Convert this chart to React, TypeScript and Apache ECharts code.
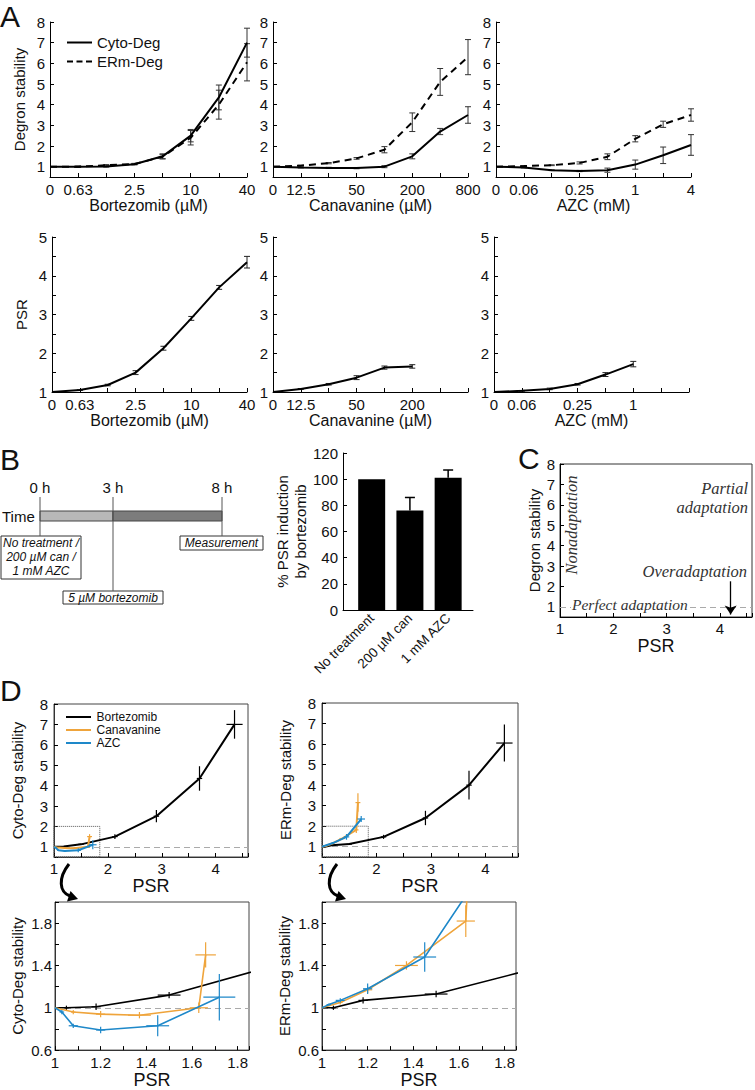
import React, { useEffect, useRef } from 'react';
import * as echarts from 'echarts';

// ---------------- data ----------------
const bortDoses = ['0', '0.63', '1.25', '2.5', '5', '10', '20', '40'];
const canDoses = ['0', '12.5', '25', '50', '100', '200', '400', '800'];
const azcDoses = ['0', '0.06', '0.125', '0.25', '0.5', '1', '2', '4'];
const labelledDoseIdx = [0, 1, 3, 5, 7];

const bortCyto = [1.0, 1.0, 1.01, 1.12, 1.5, 2.5, 4.35, 7.0];
const bortCytoErr = [0, 0.02, 0.03, 0.03, 0.12, 0.3, 0.6, 0.7];
const bortERm = [1.0, 1.0, 1.07, 1.13, 1.48, 2.4, 4.0, 6.05];
const bortERmErr = [0, 0.02, 0.03, 0.03, 0.1, 0.35, 0.7, 0.9];
const bortPsr = [1.0, 1.05, 1.18, 1.5, 2.13, 2.9, 3.7, 4.35];
const bortPsrErr = [0, 0.01, 0.02, 0.05, 0.05, 0.05, 0.05, 0.15];

const canCyto = [1.0, 0.96, 0.94, 0.93, 1.0, 1.5, 2.7, 3.5];
const canCytoErr = [0, 0.02, 0.03, 0.03, 0.05, 0.12, 0.15, 0.4];
const canERm = [1.0, 1.05, 1.17, 1.4, 1.82, 3.15, 5.1, 6.3];
const canERmErr = [0, 0.02, 0.03, 0.04, 0.15, 0.45, 0.65, 0.85];
const canPsr = [1.0, 1.08, 1.2, 1.37, 1.63, 1.66];
const canPsrErr = [0, 0.01, 0.02, 0.05, 0.04, 0.045];

const azcCyto = [1.0, 0.96, 0.83, 0.79, 0.83, 1.1, 1.55, 2.05];
const azcCytoErr = [0, 0.02, 0.02, 0.03, 0.1, 0.22, 0.4, 0.5];
const azcERm = [1.0, 1.03, 1.07, 1.18, 1.48, 2.35, 3.05, 3.5];
const azcERmErr = [0, 0.01, 0.02, 0.05, 0.14, 0.15, 0.15, 0.3];
const azcPsr = [1.0, 1.03, 1.08, 1.2, 1.45, 1.72];
const azcPsrErr = [0, 0.01, 0.02, 0.02, 0.05, 0.07];

const degronNames = ['Cyto-Deg', 'ERm-Deg'];
const drugNames = ['Bortezomib', 'Canavanine', 'AZC'];

const bCats = ['No treatment', '200 µM can', '1 mM AZC'];
const bVals = [100, 76, 101];
const bErr = [0, 10, 6];

const timeTicks = ['0 h', '3 h', '8 h'];

// ---------------- style helpers ----------------
const FONT = '"Liberation Sans", Arial, sans-serif';
const SERIF = '"Liberation Serif", "Times New Roman", serif';
const INK = '#111';
const ORANGE = '#efa43b';
const BLUE = '#1e88c9';
const DRUG_COLORS = ['#000', ORANGE, BLUE];
const SOLID_ICON = 'path://M0,0h25v2h-25z';
const DASH_ICON = 'path://M0,0h6v2h-6z M9.5,0h6v2h-6z M19,0h6v2h-6z';

const near = (v: number, step: number) => Math.abs(v / step - Math.round(v / step)) < 1e-6;
const fmt = (v: number) => String(Number(v.toFixed(2)));
const tick = { show: true, inside: true, length: 4, lineStyle: { color: '#000', width: 1 } };
const axLine = (c = '#000') => ({ show: true, lineStyle: { color: c, width: 1 } });
const lbl = (size: number, extra: any = {}) => ({ fontFamily: FONT, fontSize: size, color: INK, ...extra });

const vErr = (color: string, cap: number, lw: number, upOnly = false) => (_p: any, api: any) => {
  const x = api.value(0);
  const y = api.value(1);
  const e = api.value(2);
  if (!e) return null;
  const top = api.coord([x, y + e]);
  const bot = api.coord(upOnly ? [x, y] : [x, y - e]);
  const st = { stroke: color, lineWidth: lw };
  const ch: any[] = [
    { type: 'line', shape: { x1: top[0], y1: top[1], x2: bot[0], y2: bot[1] }, style: st },
    { type: 'line', shape: { x1: top[0] - cap, y1: top[1], x2: top[0] + cap, y2: top[1] }, style: st },
  ];
  if (!upOnly) ch.push({ type: 'line', shape: { x1: bot[0] - cap, y1: bot[1], x2: bot[0] + cap, y2: bot[1] }, style: st });
  return { type: 'group', children: ch };
};

const crossErr = (color: string, xr: number[], yr: number[], lw: number) => (_p: any, api: any) => {
  const x = api.value(0);
  const y = api.value(1);
  const ex = api.value(2);
  const ey = api.value(3);
  if (!ex && !ey) return null;
  const st = { stroke: color, lineWidth: lw };
  const ch: any[] = [];
  if (ex > 0 && y >= yr[0] && y <= yr[1] && x - ex < xr[1] && x + ex > xr[0]) {
    const a = api.coord([Math.max(x - ex, xr[0]), y]);
    const b = api.coord([Math.min(x + ex, xr[1]), y]);
    ch.push({ type: 'line', shape: { x1: a[0], y1: a[1], x2: b[0], y2: b[1] }, style: st });
  }
  if (ey > 0 && x >= xr[0] && x <= xr[1] && y - ey < yr[1] && y + ey > yr[0]) {
    const a = api.coord([x, Math.max(y - ey, yr[0])]);
    const b = api.coord([x, Math.min(y + ey, yr[1])]);
    ch.push({ type: 'line', shape: { x1: a[0], y1: a[1], x2: b[0], y2: b[1] }, style: st });
  }
  return { type: 'group', children: ch };
};

const catX = (grid: number, doses: string[], show: (k: number) => boolean, name: string) => ({
  type: 'category', gridIndex: grid, data: doses, boundaryGap: false,
  axisLine: axLine(), axisTick: { ...tick, interval: 0 },
  axisLabel: lbl(15, { interval: (k: number) => show(k), margin: 5 }),
  splitLine: { show: false },
  name, nameLocation: 'middle', nameGap: 20, nameTextStyle: lbl(16),
});

const txt = (text: string, x: number, y: number, o: any = {}) => ({
  type: 'text', x, y, z: 100, rotation: o.rotation || 0,
  style: {
    text, fill: o.fill || INK, fontSize: o.fontSize || 15, fontFamily: o.fontFamily || FONT,
    fontStyle: o.fontStyle || 'normal',
    align: o.align || 'left', textAlign: o.align || 'left',
    verticalAlign: o.va || 'middle', textVerticalAlign: o.va || 'middle',
    backgroundColor: o.bg, padding: o.pad, lineHeight: o.lineHeight,
  },
});

function buildOption() {
  const grid: any[] = [];
  const xAxis: any[] = [];
  const yAxis: any[] = [];
  const series: any[] = [];

  // ---------- Panel A ----------
  const aSets = [
    { doses: bortDoses, cyto: bortCyto, cytoErr: bortCytoErr, erm: bortERm, ermErr: bortERmErr, psr: bortPsr, psrErr: bortPsrErr, title: 'Bortezomib (µM)' },
    { doses: canDoses, cyto: canCyto, cytoErr: canCytoErr, erm: canERm, ermErr: canERmErr, psr: canPsr, psrErr: canPsrErr, title: 'Canavanine (µM)' },
    { doses: azcDoses, cyto: azcCyto, cytoErr: azcCytoErr, erm: azcERm, ermErr: azcERmErr, psr: azcPsr, psrErr: azcPsrErr, title: 'AZC (mM)' },
  ];
  const aTopLeft = [50, 273, 496];
  const aBotLeft = [52, 273, 494];
  const aWidth = [197, 195, 195];

  aSets.forEach((s, i) => {
    grid[i] = { left: aTopLeft[i], top: 22, width: aWidth[i], height: 155 };
    xAxis[i] = catX(i, s.doses, (k) => labelledDoseIdx.includes(k), s.title);
    yAxis[i] = {
      type: 'value', gridIndex: i, min: 0.5, max: 8, splitNumber: 8,
      axisLine: axLine(), axisTick: tick, splitLine: { show: false },
      axisLabel: lbl(15, { margin: 5, formatter: (v: number) => (near(v, 1) ? fmt(v) : '') }),
      name: i === 0 ? 'Degron stability' : '', nameLocation: 'middle', nameRotate: 90, nameGap: 23,
      nameTextStyle: lbl(15),
    };
    series.push({ type: 'line', name: degronNames[0], xAxisIndex: i, yAxisIndex: i, data: s.cyto, symbol: 'none',
      lineStyle: { color: '#000', width: 2 }, itemStyle: { color: '#000' } });
    series.push({ type: 'line', name: degronNames[1], xAxisIndex: i, yAxisIndex: i, data: s.erm, symbol: 'none',
      lineStyle: { color: '#000', width: 2, type: [7, 5] }, itemStyle: { color: '#000' } });
    series.push({ type: 'custom', xAxisIndex: i, yAxisIndex: i, renderItem: vErr('#333', 3, 1),
      data: s.cyto.map((v, k) => [k, v, s.cytoErr[k]]), encode: { x: 0, y: 1 }, z: 3 });
    series.push({ type: 'custom', xAxisIndex: i, yAxisIndex: i, renderItem: vErr('#333', 3, 1),
      data: s.erm.map((v, k) => [k, v, s.ermErr[k]]), encode: { x: 0, y: 1 }, z: 3 });

    const b = 3 + i;
    grid[b] = { left: aBotLeft[i], top: 237, width: aWidth[i] - (i === 0 ? 2 : 0), height: 155 };
    xAxis[b] = catX(b, s.doses, (k) => k < s.psr.length && labelledDoseIdx.includes(k), s.title);
    yAxis[b] = {
      type: 'value', gridIndex: b, min: 1, max: 5, interval: 0.5,
      axisLine: axLine(), axisTick: tick, splitLine: { show: false },
      axisLabel: lbl(15, { margin: 5, formatter: (v: number) => (near(v, 1) ? fmt(v) : '') }),
      name: i === 0 ? 'PSR' : '', nameLocation: 'middle', nameRotate: 90, nameGap: 23, nameTextStyle: lbl(15),
    };
    series.push({ type: 'line', name: 'PSR', xAxisIndex: b, yAxisIndex: b, data: s.psr, symbol: 'none',
      lineStyle: { color: '#000', width: 2 }, itemStyle: { color: '#000' } });
    series.push({ type: 'custom', xAxisIndex: b, yAxisIndex: b, renderItem: vErr('#222', 3, 1),
      data: s.psr.map((v, k) => [k, v, s.psrErr[k]]), encode: { x: 0, y: 1 }, z: 3 });
  });

  // ---------- Panel B bar chart ----------
  grid[6] = { left: 343, top: 453, width: 130, height: 157 };
  xAxis[6] = {
    type: 'value', gridIndex: 6, min: 0.25, max: 3.65, splitNumber: 3,
    axisLine: axLine(), axisTick: { show: false }, splitLine: { show: false },
    axisLabel: lbl(13.5, { rotate: 45, margin: 6,
      formatter: (v: number) => (near(v, 1) && v >= 1 && v <= 3 ? bCats[Math.round(v) - 1] : '') }),
  };
  yAxis[6] = {
    type: 'value', gridIndex: 6, min: 0, max: 120, interval: 20,
    axisLine: axLine(), axisTick: tick, splitLine: { show: false },
    axisLabel: lbl(15, { margin: 5 }),
    name: '% PSR induction\nby bortezomib', nameLocation: 'middle', nameRotate: 90, nameGap: 31,
    nameTextStyle: lbl(15, { lineHeight: 18 }),
  };
  series.push({ type: 'bar', xAxisIndex: 6, yAxisIndex: 6, barWidth: 27,
    data: bVals.map((v, k) => [k + 1, v]), itemStyle: { color: '#000' } });
  series.push({ type: 'custom', xAxisIndex: 6, yAxisIndex: 6, renderItem: vErr('#000', 5, 1.5, true),
    data: bVals.map((v, k) => [k + 1, v, bErr[k]]), encode: { x: 0, y: 1 }, z: 3 });

  // ---------- Panel C ----------
  grid[7] = { left: 560, top: 464, width: 194, height: 153, show: true, borderColor: '#333', borderWidth: 1 };
  xAxis[7] = {
    type: 'value', gridIndex: 7, min: 1, max: 4.6, interval: 0.5,
    axisLine: axLine(), axisTick: tick, splitLine: { show: false },
    axisLabel: lbl(15, { margin: 4, formatter: (v: number) => (near(v, 1) ? fmt(v) : '') }),
    name: 'PSR', nameLocation: 'middle', nameGap: 16, nameTextStyle: lbl(18),
  };
  yAxis[7] = {
    type: 'value', gridIndex: 7, min: 0.5, max: 8, splitNumber: 8,
    axisLine: axLine(), axisTick: tick, splitLine: { show: false },
    axisLabel: lbl(15, { margin: 5, formatter: (v: number) => (near(v, 1) ? fmt(v) : '') }),
    name: 'Degron stability', nameLocation: 'middle', nameRotate: 90, nameGap: 18, nameTextStyle: lbl(15),
  };
  series.push({ type: 'line', xAxisIndex: 7, yAxisIndex: 7, data: [], symbol: 'none',
    markLine: { silent: true, symbol: 'none', label: { show: false },
      lineStyle: { color: '#aaa', type: [6, 4], width: 1.2 }, data: [{ yAxis: 1 }] } });
  series.push({ type: 'line', xAxisIndex: 7, yAxisIndex: 7, data: [], symbol: 'none',
    markLine: { silent: true, symbol: ['none', 'arrow'], symbolSize: 9, label: { show: false },
      lineStyle: { color: '#000', type: 'solid', width: 1.3 },
      data: [[{ coord: [4.2, 2.25] }, { coord: [4.2, 0.62] }]] } });

  // ---------- Panel D ----------
  const dSets = [
    { g: 8, left: 54, top: 704, w: 194, h: 153, xr: [1, 4.6], yr: [0.5, 8], stabs: [bortCyto, canCyto, azcCyto], errs: [bortCytoErr, canCytoErr, azcCytoErr], yname: 'Cyto-Deg stability', zoom: false },
    { g: 9, left: 322, top: 703, w: 196, h: 154, xr: [1, 4.6], yr: [0.5, 8], stabs: [bortERm, canERm, azcERm], errs: [bortERmErr, canERmErr, azcERmErr], yname: 'ERm-Deg stability', zoom: false },
    { g: 10, left: 55, top: 902, w: 194, h: 153, xr: [1, 1.85], yr: [0.6, 2], stabs: [bortCyto, canCyto, azcCyto], errs: [bortCytoErr, canCytoErr, azcCytoErr], yname: 'Cyto-Deg stability', zoom: true },
    { g: 11, left: 322, top: 902, w: 194, h: 153, xr: [1, 1.85], yr: [0.6, 2], stabs: [bortERm, canERm, azcERm], errs: [bortERmErr, canERmErr, azcERmErr], yname: 'ERm-Deg stability', zoom: true },
  ];
  const psrs = [bortPsr, canPsr, azcPsr];
  const psrErrs = [bortPsrErr, canPsrErr, azcPsrErr];

  dSets.forEach((d) => {
    const g = d.g;
    grid[g] = { left: d.left, top: d.top, width: d.w, height: d.h, show: true, borderColor: '#444', borderWidth: 1 };
    if (!d.zoom) {
      xAxis[g] = {
        type: 'value', gridIndex: g, min: d.xr[0], max: d.xr[1], interval: 0.5,
        axisLine: axLine('#333'), axisTick: tick, splitLine: { show: false },
        axisLabel: lbl(15, { margin: 4, formatter: (v: number) => (near(v, 1) ? fmt(v) : '') }),
        name: 'PSR', nameLocation: 'middle', nameGap: 19, nameTextStyle: lbl(18),
      };
      yAxis[g] = {
        type: 'value', gridIndex: g, min: d.yr[0], max: d.yr[1], splitNumber: 8,
        axisLine: axLine('#333'), axisTick: tick, splitLine: { show: false },
        axisLabel: lbl(15, { margin: 6, formatter: (v: number) => (near(v, 1) ? fmt(v) : '') }),
        name: d.yname, nameLocation: 'middle', nameRotate: 90, nameGap: 29, nameTextStyle: lbl(15),
      };
    } else {
      xAxis[g] = {
        type: 'value', gridIndex: g, min: d.xr[0], max: d.xr[1], interval: 0.1,
        axisLine: axLine('#333'), axisTick: tick, splitLine: { show: false },
        axisLabel: lbl(15, { margin: 5, formatter: (v: number) => (near(v, 0.1) && Math.round(v * 10) % 2 === 0 ? fmt(v) : '') }),
        name: 'PSR', nameLocation: 'middle', nameGap: 19, nameTextStyle: lbl(18),
      };
      yAxis[g] = {
        type: 'value', gridIndex: g, min: d.yr[0], max: d.yr[1], interval: 0.2,
        axisLine: axLine('#333'), axisTick: tick, splitLine: { show: false },
        axisLabel: lbl(15, { margin: 3, formatter: (v: number) => (near(v - 0.6, 0.4) ? fmt(v) : '') }),
        name: d.yname, nameLocation: 'middle', nameRotate: 90, nameGap: 30, nameTextStyle: lbl(15),
      };
    }
    const lw = d.zoom ? 1.6 : 2;
    drugNames.forEach((nm, k) => {
      const pts = psrs[k].map((p, j) => [p, d.stabs[k][j]]);
      const s: any = {
        type: 'line', name: nm, xAxisIndex: g, yAxisIndex: g, data: pts, symbol: 'none', clip: true,
        lineStyle: { color: DRUG_COLORS[k], width: lw }, itemStyle: { color: DRUG_COLORS[k] }, z: 4 + k,
      };
      if (k === 0) {
        s.markLine = { silent: true, symbol: 'none', label: { show: false }, z: 1,
          lineStyle: { color: '#aaa', type: [6, 4], width: 1.2 }, data: [{ yAxis: 1 }] };
        if (!d.zoom) {
          s.markArea = { silent: true, itemStyle: { color: 'rgba(0,0,0,0)', borderColor: '#555', borderWidth: 1, borderType: 'dotted' },
            data: [[{ coord: [dSets[2].xr[0], d.yr[0]] }, { coord: [dSets[2].xr[1], dSets[2].yr[1]] }]] };
        }
      }
      series.push(s);
      series.push({
        type: 'custom', xAxisIndex: g, yAxisIndex: g, clip: true, z: 4 + k,
        renderItem: crossErr(DRUG_COLORS[k], d.xr, d.yr, 1.2),
        data: psrs[k].map((p, j) => [p, d.stabs[k][j], psrErrs[k][j], d.errs[k][j]]),
        encode: { x: 0, y: 1 },
      });
    });
  });

  // ---------- graphics ----------
  const graphic: any[] = [];
  graphic.push(txt('A', 0, 1, { fontSize: 30, va: 'top' }));
  graphic.push(txt('B', 0, 444, { fontSize: 30, va: 'top' }));
  graphic.push(txt('C', 518, 443, { fontSize: 30, va: 'top' }));
  graphic.push(txt('D', 0, 675, { fontSize: 30, va: 'top' }));

  // timeline
  const tx = [40, 113, 222];
  const lineEnd = [536, 591, 536];
  graphic.push({ type: 'rect', z: 100, shape: { x: 40, y: 511, width: 73, height: 10 }, style: { fill: '#b8b8b8', stroke: '#444', lineWidth: 1 } });
  graphic.push({ type: 'rect', z: 100, shape: { x: 113, y: 511, width: 109, height: 10 }, style: { fill: '#7c7c7c', stroke: '#444', lineWidth: 1 } });
  timeTicks.forEach((t, k) => {
    graphic.push(txt(t, tx[k], 487, { align: 'center', fontSize: 15 }));
    graphic.push({ type: 'line', z: 101, shape: { x1: tx[k], y1: 497, x2: tx[k], y2: lineEnd[k] }, style: { stroke: '#555', lineWidth: 1 } });
  });
  graphic.push(txt('Time', 2, 516, { fontSize: 15 }));
  graphic.push({ type: 'rect', z: 100, shape: { x: 1, y: 536, width: 80, height: 43 }, style: { fill: '#fff', stroke: '#333', lineWidth: 1 } });
  graphic.push(txt('No treatment /', 41, 543, { align: 'center', fontSize: 12, fontStyle: 'italic' }));
  graphic.push(txt('200 µM can /', 41, 557, { align: 'center', fontSize: 12, fontStyle: 'italic' }));
  graphic.push(txt('1 mM AZC', 41, 571, { align: 'center', fontSize: 12, fontStyle: 'italic' }));
  graphic.push({ type: 'rect', z: 100, shape: { x: 63, y: 591, width: 100, height: 13 }, style: { fill: '#fff', stroke: '#333', lineWidth: 1 } });
  graphic.push(txt('5 µM bortezomib', 113, 597.5, { align: 'center', fontSize: 12, fontStyle: 'italic' }));
  graphic.push({ type: 'rect', z: 100, shape: { x: 180, y: 536, width: 83, height: 14 }, style: { fill: '#fff', stroke: '#333', lineWidth: 1 } });
  graphic.push(txt('Measurement', 221.5, 543, { align: 'center', fontSize: 12, fontStyle: 'italic' }));

  // panel C annotations
  graphic.push(txt('Nonadaptation', 571, 525, { fontSize: 16.5, fontFamily: SERIF, fontStyle: 'italic', align: 'center', rotation: Math.PI / 2, fill: '#333' }));
  graphic.push(txt('Partial', 748, 488, { fontSize: 16.5, fontFamily: SERIF, fontStyle: 'italic', align: 'right', fill: '#333' }));
  graphic.push(txt('adaptation', 748, 507, { fontSize: 16.5, fontFamily: SERIF, fontStyle: 'italic', align: 'right', fill: '#333' }));
  graphic.push(txt('Overadaptation', 747, 571, { fontSize: 16.5, fontFamily: SERIF, fontStyle: 'italic', align: 'right', fill: '#333' }));
  graphic.push(txt('Perfect adaptation', 571, 604, { fontSize: 15.5, fontFamily: SERIF, fontStyle: 'italic', fill: '#333', bg: '#fff', pad: [0, 2, 0, 1] }));

  // curved arrows (D)
  [0, 268].forEach((off) => {
    graphic.push({ type: 'bezierCurve', z: 100,
      shape: { x1: 69 + off, y1: 864, cpx1: 58 + off, cpy1: 878, cpx2: 59 + off, cpy2: 892, x2: 70 + off, y2: 896 },
      style: { stroke: '#000', lineWidth: 3, fill: 'none' } });
    graphic.push({ type: 'polygon', z: 100,
      shape: { points: [[78 + off, 899], [67 + off, 901.5], [70.5 + off, 891]] },
      style: { fill: '#000' } });
  });

  return {
    animation: false,
    backgroundColor: '#fff',
    textStyle: { fontFamily: FONT },
    legend: [
      { left: 62, top: 30, orient: 'vertical', itemWidth: 25, itemHeight: 2, itemGap: 4, selectedMode: false,
        data: [{ name: degronNames[0], icon: SOLID_ICON }, { name: degronNames[1], icon: DASH_ICON }],
        textStyle: lbl(15, { lineHeight: 13 }) },
      { left: 61, top: 706, orient: 'vertical', itemWidth: 26, itemHeight: 2, itemGap: 1, selectedMode: false,
        data: drugNames.map((n) => ({ name: n, icon: SOLID_ICON })), textStyle: lbl(12, { lineHeight: 11.5 }) },
    ],
    grid, xAxis, yAxis, series, graphic,
  };
}

export default function App() {
  const ref = useRef<HTMLDivElement>(null);
  useEffect(() => {
    if (!ref.current) return;
    const chart = echarts.init(ref.current, null, { renderer: 'svg' });
    chart.setOption(buildOption() as any);
    return () => chart.dispose();
  }, []);
  return (
    <div
      ref={ref}
      style={{ position: 'absolute', left: 0, top: 0, width: 755, height: 1090, background: '#fff' }}
    />
  );
}
